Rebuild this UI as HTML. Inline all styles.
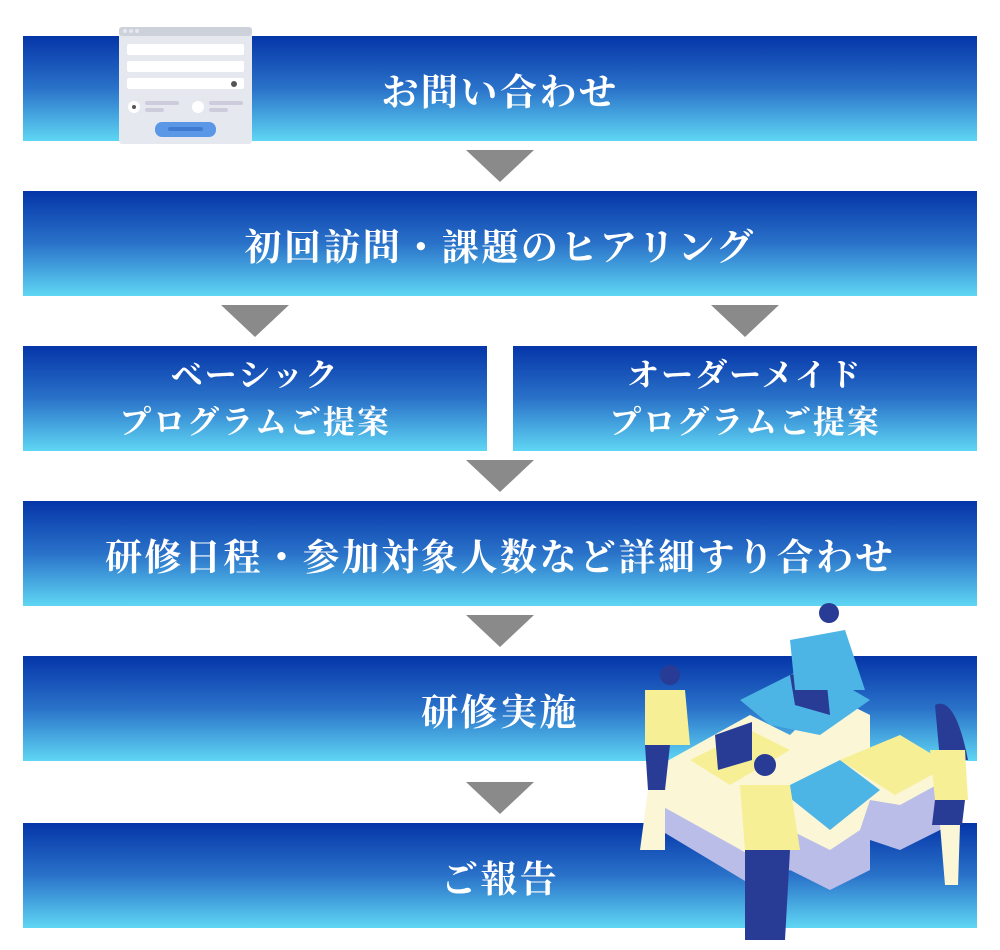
<!DOCTYPE html>
<html><head><meta charset="utf-8"><style>
body{margin:0;width:1000px;height:950px;background:#fff;position:relative;overflow:hidden;font-family:"Liberation Serif","Noto Serif CJK SC",serif;}
.bar{position:absolute;height:105px;background:linear-gradient(#0535a8 0%,#2a72c9 50%,#5fd6f3 100%);color:#fff;font-weight:bold;display:flex;align-items:center;justify-content:center;text-align:center;font-size:37px;letter-spacing:2.5px;}
.sm{font-size:32px;line-height:47px;letter-spacing:2px}
.tri{position:absolute;width:0;height:0;border-left:34px solid transparent;border-right:34px solid transparent;border-top:32px solid #8a8a8a;}
</style></head><body>
<div class="bar" style="left:23px;top:36px;width:954px">お問い合わせ</div>
<div class="bar" style="left:23px;top:191px;width:954px">初回訪問・課題のヒアリング</div>
<div class="bar sm" style="left:23px;top:346px;width:464px">ベーシック<br>プログラムご提案</div>
<div class="bar sm" style="left:513px;top:346px;width:464px">オーダーメイド<br>プログラムご提案</div>
<div class="bar" style="left:23px;top:501px;width:954px">研修日程・参加対象人数など詳細すり合わせ</div>
<div class="bar" style="left:23px;top:656px;width:954px">研修実施</div>
<div class="bar" style="left:23px;top:823px;width:954px">ご報告</div>
<div class="tri" style="left:466px;top:150px"></div>
<div class="tri" style="left:221px;top:305px"></div>
<div class="tri" style="left:711px;top:305px"></div>
<div class="tri" style="left:466px;top:460px"></div>
<div class="tri" style="left:466px;top:615px"></div>
<div class="tri" style="left:466px;top:782px"></div>
<svg style="position:absolute;left:0;top:0" width="1000" height="950">
<rect x="119" y="27" width="133" height="117" rx="3" fill="#e5e8ee"/>
<rect x="119" y="27" width="133" height="9" rx="3" fill="#cdd1da"/>
<circle cx="125" cy="31" r="2" fill="#e5e8ee"/><circle cx="131" cy="31" r="2" fill="#e5e8ee"/><circle cx="137" cy="31" r="2" fill="#e5e8ee"/>
<rect x="127" y="44" width="117" height="11" rx="2" fill="#fff"/>
<rect x="127" y="61" width="117" height="11" rx="2" fill="#fff"/>
<rect x="127" y="78" width="117" height="11" rx="2" fill="#fff"/>
<circle cx="234" cy="84" r="3" fill="#555"/>
<circle cx="134" cy="107" r="6" fill="#fff"/><circle cx="134" cy="107" r="2" fill="#555"/>
<circle cx="198" cy="107" r="6" fill="#fff"/>
<rect x="145" y="101" width="34" height="4" rx="2" fill="#ccd"/><rect x="145" y="108" width="19" height="4" rx="2" fill="#ccd"/>
<rect x="209" y="101" width="34" height="4" rx="2" fill="#ccd"/><rect x="209" y="108" width="19" height="4" rx="2" fill="#ccd"/>
<rect x="155" y="122" width="61" height="15" rx="7" fill="#5a97e6"/>
<rect x="168" y="127" width="35" height="4" rx="2" fill="#3f7bd0"/>
<polygon points="660,770 750,720 790,740 830,700 870,720 870,760 900,750 960,780 960,820 900,850 870,840 870,870 830,890 790,870 760,890 660,830" fill="#b9bde8"/>
<polygon points="660,765 750,715 790,735 830,695 870,715 870,750 900,745 955,775 900,805 870,800 860,830 830,850 790,830 750,855 660,805" fill="#fbf6d6"/>
<polygon points="740,700 810,665 870,700 820,735 770,725" fill="#4db4e6"/>
<polygon points="690,760 750,730 790,750 730,785" fill="#f7ef96"/>
<polygon points="780,790 840,760 880,790 830,830" fill="#4db4e6"/>
<polygon points="840,760 900,735 950,765 895,795" fill="#f7ef96"/>
<polygon points="790,675 825,665 830,715 795,705" fill="#283c96"/>
<polygon points="715,735 752,722 752,760 718,770" fill="#283c96"/>
<path d="M790,640 L845,630 L865,690 L795,690 Z" fill="#4db4e6"/>
<circle cx="829" cy="613" r="10" fill="#283c96"/>
<circle cx="670" cy="675" r="10" fill="#283c96"/>
<path d="M645,690 L685,690 L690,745 L645,745 Z" fill="#f7ef96"/>
<path d="M645,745 L670,745 L665,790 L648,790 Z" fill="#283c96"/>
<path d="M648,790 L665,790 L665,850 L640,850 Z" fill="#fbf6d6"/>
<circle cx="765" cy="765" r="11" fill="#283c96"/>
<path d="M740,785 L790,785 L800,850 L745,850 Z" fill="#f7ef96"/>
<path d="M745,850 L790,850 L785,940 L745,940 Z" fill="#283c96"/>
<path d="M935,705 Q955,695 968,760 L940,760 Z" fill="#283c96"/>
<path d="M930,750 L965,750 L968,800 L935,800 Z" fill="#f7ef96"/>
<path d="M935,800 L965,800 L962,825 L932,825 Z" fill="#283c96"/>
<path d="M940,825 L960,825 L958,885 L945,885 Z" fill="#fbf6d6"/>
</svg>
</body></html>
